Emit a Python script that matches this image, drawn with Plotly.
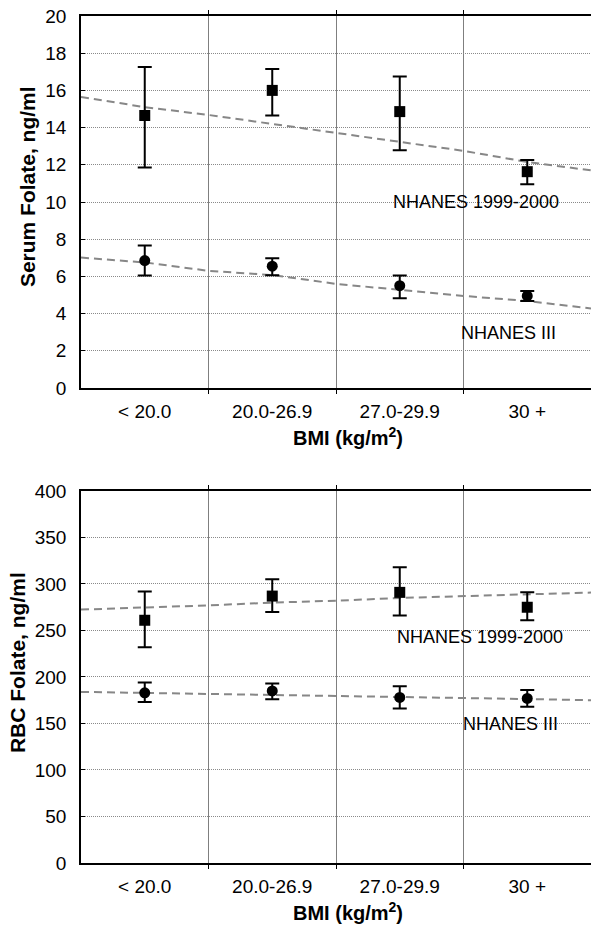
import plotly.graph_objects as go

categories = ["< 20.0", "20.0-26.9", "27.0-29.9", "30 +"]
cat_x = [0, 1, 2, 3]
boundaries = [0.5, 1.5, 2.5]

# Serum folate (ng/ml)
serum_1999 = [14.65, 16.0, 14.86, 11.63]
serum_1999_hi = [17.26, 17.15, 16.75, 12.26]
serum_1999_lo = [11.85, 14.65, 12.78, 10.96]
serum_III = [6.85, 6.55, 5.5, 4.95]
serum_III_hi = [7.66, 6.98, 6.05, 5.22]
serum_III_lo = [6.05, 6.06, 4.82, 4.68]

trend_x = [-0.5, 0, 0.5, 1, 1.5, 2, 2.5, 3, 3.5]
serum_trend_1999 = [15.65, 15.1, 14.68, 14.2, 13.7, 13.2, 12.75, 12.15, 11.7]
serum_trend_III = [7.01, 6.75, 6.3, 6.07, 5.6, 5.27, 4.95, 4.68, 4.28]

# RBC folate (ng/ml)
rbc_1999 = [261, 287, 291, 275]
rbc_1999_hi = [292, 305, 318, 291]
rbc_1999_lo = [232, 270, 266, 261]
rbc_III = [183, 185, 178, 177]
rbc_III_hi = [194, 193, 190, 186]
rbc_III_lo = [173, 176, 166, 168]
rbc_trend_1999 = [272.5, 274.5, 277, 280, 282, 285, 287, 289, 290.8]
rbc_trend_III = [184, 183, 182, 181, 180, 178.5, 177.4, 176.3, 175]

FONT = "Liberation Sans, Arial, sans-serif"
fig = go.Figure()


def add_panel(xa, ya, t99, t3, v99, hi99, lo99, v3, hi3, lo3):
    for tr in (t99, t3):
        fig.add_trace(go.Scatter(x=trend_x, y=tr, mode="lines", xaxis=xa, yaxis=ya,
                                 line=dict(color="#878787", width=2, dash="8px,5px"),
                                 showlegend=False, hoverinfo="skip"))
    fig.add_trace(go.Scatter(
        x=cat_x, y=v99, mode="markers", xaxis=xa, yaxis=ya, showlegend=False,
        marker=dict(symbol="square", size=11, color="black"),
        error_y=dict(type="data", array=[h - v for h, v in zip(hi99, v99)],
                     arrayminus=[v - l for v, l in zip(v99, lo99)],
                     color="black", thickness=2, width=7)))
    fig.add_trace(go.Scatter(
        x=cat_x, y=v3, mode="markers", xaxis=xa, yaxis=ya, showlegend=False,
        marker=dict(symbol="circle", size=11, color="black"),
        error_y=dict(type="data", array=[h - v for h, v in zip(hi3, v3)],
                     arrayminus=[v - l for v, l in zip(v3, lo3)],
                     color="black", thickness=2, width=7)))


add_panel("x", "y", serum_trend_1999, serum_trend_III, serum_1999, serum_1999_hi,
          serum_1999_lo, serum_III, serum_III_hi, serum_III_lo)
add_panel("x2", "y2", rbc_trend_1999, rbc_trend_III, rbc_1999, rbc_1999_hi,
          rbc_1999_lo, rbc_III, rbc_III_hi, rbc_III_lo)

xcommon = dict(range=[-0.5, 3.5], tickmode="array", tickvals=cat_x, ticktext=categories,
               ticks="", showgrid=False, zeroline=False, showline=True,
               linecolor="black", linewidth=1.5, mirror="ticks",
               tickfont=dict(size=19, color="black"), ticklabelstandoff=5,
               minor=dict(tickmode="array", tickvals=boundaries, showgrid=True,
                          gridcolor="#7f7f7f", gridwidth=1, ticks="outside",
                          ticklen=4, tickcolor="black"))
ycommon = dict(zeroline=False, showline=True, linecolor="black", linewidth=1.5,
               mirror=False, ticks="inside", ticklen=4, tickcolor="black",
               showgrid=True, gridcolor="#8a8a8a", gridwidth=1, griddash="1px,1px",
               tickfont=dict(size=19, color="black"), ticklabelstandoff=9)

fig.update_layout(
    width=591, height=925,
    margin=dict(l=81, r=0, t=16, b=62),
    paper_bgcolor="white", plot_bgcolor="white",
    font=dict(family=FONT, color="black"),
    xaxis=dict(domain=[0, 1], anchor="y", **xcommon),
    yaxis=dict(domain=[0.5608, 1], anchor="x", range=[0, 20], dtick=2, **ycommon),
    xaxis2=dict(domain=[0, 1], anchor="y2", **xcommon),
    yaxis2=dict(domain=[0, 0.4392], anchor="x2", range=[0, 400], dtick=50, **ycommon),
)

ann = [
    dict(text="NHANES 1999-2000", x=2.6, y=10.0, xref="x", yref="y"),
    dict(text="NHANES III", x=2.85, y=2.96, xref="x", yref="y"),
    dict(text="NHANES 1999-2000", x=2.63, y=243, xref="x2", yref="y2"),
    dict(text="NHANES III", x=2.87, y=149, xref="x2", yref="y2"),
]
for a in ann:
    fig.add_annotation(showarrow=False, font=dict(size=18, color="black"),
                       xanchor="center", yanchor="middle", **a)

for yc in (0.503, -0.0567):
    fig.add_annotation(text="<b>BMI (kg/m<sup>2</sup>)</b>", xref="paper", yref="paper",
                       x=0.523, y=yc, showarrow=False, xanchor="center", yanchor="middle",
                       font=dict(size=20, color="black"))

for txt, yc, xs in (("Serum Folate, ng/ml", 0.798, -54), ("RBC Folate, ng/ml", 0.236, -64)):
    fig.add_annotation(text="<b>" + txt + "</b>", xref="paper", yref="paper",
                       x=0, xshift=xs, y=yc, textangle=-90, showarrow=False,
                       xanchor="center", yanchor="middle",
                       font=dict(size=21, color="black"))

fig.write_html("out.html",
               config={"displayModeBar": False},
               post_script="document.body.style.margin='0';"
                           "document.documentElement.style.overflow='hidden';")
